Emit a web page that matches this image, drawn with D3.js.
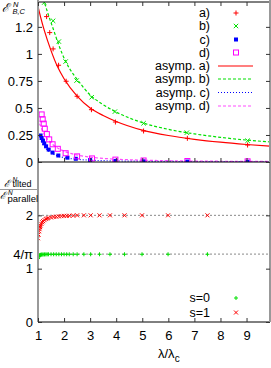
<!DOCTYPE html>
<html><head><meta charset="utf-8">
<script src="https://cdn.jsdelivr.net/npm/d3@7"></script>
<style>body{margin:0;background:#fff}svg{display:block}text{font-family:"Liberation Sans",Arial,sans-serif}</style>
</head><body>
<svg id="c" width="271" height="368"></svg>
<script>
// ---- data ----
const xTicks = [1,2,3,4,5,6,7,8,9];
const topYTicks = [0,0.25,0.5,0.75,1,1.25];
const topYTickLabels = ["0","0.25","0.5","0.75","1","1.2"];
const botYTicks = [0,1,2];
const botRefLines = [2, 4/Math.PI];
const botRefLabel = "4/π";
const legendTop = ["a)","b)","c)","d)","asymp. a)","asymp. b)","asymp. c)","asymp. d)"];
const legendBot = ["s=0","s=1"];

const pointsA = [[1.33,1.345],[1.45,1.197],[1.58,1.046],[1.79,0.895],[2.08,0.747],[2.50,0.608],[3.05,0.484],[3.97,0.370],[5.05,0.287],[6.73,0.219],[9.04,0.157]];
const pointsB = [[1.24,1.475],[1.58,1.306],[1.80,1.114],[2.06,0.929],[2.48,0.753],[3.06,0.599],[3.95,0.466],[5.05,0.358],[6.71,0.271],[9.04,0.197]];
const pointsC = [[1.10,0.245],[1.14,0.222],[1.19,0.198],[1.24,0.172],[1.31,0.145],[1.41,0.115],[1.56,0.087],[1.78,0.060],[2.13,0.040],[2.45,0.030],[3.0,0.018],[3.97,0.010],[5.05,0.006],[6.73,0.004],[9.04,0.002]];
const pointsD = [[1.14,0.440],[1.18,0.395],[1.22,0.355],[1.26,0.308],[1.34,0.258],[1.43,0.209],[1.56,0.164],[1.76,0.122],[2.06,0.081],[2.50,0.052],[3.07,0.033],[3.97,0.022],[5.05,0.014],[6.73,0.009],[9.04,0.006]];

const asymA = [[1,1.44],[1.1,1.34],[1.25,1.21],[1.5,1.03],[1.75,0.88],[2,0.77],[2.5,0.61],[3,0.50],[3.5,0.43],[4,0.375],[5,0.295],[6,0.245],[7,0.21],[8,0.183],[9,0.162],[9.9,0.146]];
const asymB = [[1.2,1.51],[1.24,1.48],[1.4,1.36],[1.6,1.22],[1.8,1.08],[2.04,0.94],[2.36,0.81],[2.5,0.765],[3,0.62],[3.5,0.53],[4,0.462],[5,0.364],[6,0.302],[7,0.26],[8,0.228],[9,0.203],[9.9,0.186]];
const asymC = [[1,0.27],[1.1,0.205],[1.2,0.16],[1.3,0.127],[1.5,0.085],[1.75,0.057],[2,0.041],[2.5,0.025],[3,0.017],[4,0.01],[5,0.007],[7,0.004],[9.9,0.002]];
const asymD = [[1,0.40],[1.1,0.33],[1.2,0.275],[1.3,0.232],[1.5,0.175],[1.75,0.13],[2,0.1],[2.5,0.065],[3,0.045],[4,0.026],[5,0.017],[6,0.012],[7,0.009],[8,0.007],[9.9,0.005]];

const ratioS0 = [[1.0,1.19],[1.02,1.22],[1.04,1.24],[1.06,1.25],[1.08,1.255],[1.1,1.26],[1.13,1.263],[1.16,1.265],[1.2,1.266],[1.25,1.267],[1.3,1.268],[1.35,1.269],[1.4,1.27],[1.5,1.27],[1.6,1.27],[1.7,1.27],[1.8,1.27],[1.9,1.27],[2.0,1.27],[2.1,1.27],[2.2,1.27],[2.35,1.27],[2.5,1.27],[2.76,1.27],[3.02,1.27],[3.36,1.27],[3.76,1.27],[4.32,1.27],[4.99,1.27],[5.99,1.27],[7.5,1.27]];
const ratioS1 = [[1.0,1.57],[1.02,1.64],[1.04,1.70],[1.06,1.74],[1.08,1.78],[1.1,1.81],[1.13,1.84],[1.16,1.87],[1.2,1.89],[1.25,1.91],[1.3,1.93],[1.35,1.94],[1.4,1.95],[1.5,1.96],[1.6,1.97],[1.7,1.975],[1.8,1.98],[1.9,1.985],[2.0,1.99],[2.1,1.99],[2.2,1.992],[2.35,1.995],[2.5,2.0],[2.76,2.0],[3.02,2.0],[3.36,2.0],[3.76,2.0],[4.32,2.0],[4.99,2.0],[5.99,2.0],[7.5,2.0]];

// ---- colours ----
const RED="#ff0000", GREEN="#00e000", BLUE="#0000ff", MAG="#ff00ff";

const svg = d3.select("#c");
const L=38, R=270, T=2, MID=162, B=322;
const x = d3.scaleLinear().domain([1,9.9]).range([L,R]);
const yT = d3.scaleLinear().domain([0,1.48]).range([MID,T]);
const yB = d3.scaleLinear().domain([0,3]).range([B,MID]);

svg.append("clipPath").attr("id","cpT").append("rect").attr("x",L).attr("y",T).attr("width",R-L).attr("height",MID-T);
svg.append("clipPath").attr("id","cpB").append("rect").attr("x",L).attr("y",MID).attr("width",R-L).attr("height",B-MID);

function plus(g,px,py,c,s=2.5){g.append("path").attr("d",`M${px-s},${py}H${px+s}M${px},${py-s}V${py+s}`).attr("stroke",c).attr("stroke-width",1).attr("fill","none");}
function cross(g,px,py,c,s=2.2){g.append("path").attr("d",`M${px-s},${py-s}L${px+s},${py+s}M${px-s},${py+s}L${px+s},${py-s}`).attr("stroke",c).attr("stroke-width",1).attr("fill","none");}
function fsq(g,px,py,c,s=2){g.append("rect").attr("x",px-s).attr("y",py-s).attr("width",2*s).attr("height",2*s).attr("fill",c);}
function osq(g,px,py,c,s=2.5){g.append("rect").attr("x",px-s).attr("y",py-s).attr("width",2*s).attr("height",2*s).attr("fill","none").attr("stroke",c).attr("stroke-width",1);}

const gB = svg.append("g").attr("clip-path","url(#cpB)");
botRefLines.forEach(v=>{
  gB.append("line").attr("x1",L).attr("x2",R).attr("y1",yB(v)).attr("y2",yB(v)).attr("stroke","#888").attr("stroke-width",1).attr("stroke-dasharray","2,2");
});

const gT = svg.append("g").attr("clip-path","url(#cpT)");
const lineT = d3.line().x(d=>x(d[0])).y(d=>yT(d[1])).curve(d3.curveMonotoneX);
gT.append("path").datum(asymA).attr("d",lineT).attr("fill","none").attr("stroke",RED).attr("stroke-width",1.2);
gT.append("path").datum(asymB).attr("d",lineT).attr("fill","none").attr("stroke",GREEN).attr("stroke-width",1.2).attr("stroke-dasharray","3,2");
gT.append("path").datum(asymC).attr("d",lineT).attr("fill","none").attr("stroke",BLUE).attr("stroke-width",1.2).attr("stroke-dasharray","1,2");
gT.append("path").datum(asymD).attr("d",lineT).attr("fill","none").attr("stroke",MAG).attr("stroke-opacity",0.7).attr("stroke-width",1.2).attr("stroke-dasharray","3,2");

pointsA.forEach(d=>plus(gT,x(d[0]),yT(d[1]),RED));
pointsB.forEach(d=>cross(gT,x(d[0]),yT(d[1]),GREEN));
pointsC.forEach(d=>fsq(gT,x(d[0]),yT(d[1]),BLUE));
pointsD.forEach(d=>osq(gT,x(d[0]),yT(d[1]),MAG));

ratioS0.forEach(d=>plus(gB,x(d[0]),yB(d[1]),GREEN,2));
ratioS1.forEach(d=>cross(gB,x(d[0]),yB(d[1]),RED,2));

const frame = svg.append("g");
[T,MID,B].forEach(yy=>frame.append("line").attr("x1",L).attr("x2",R).attr("y1",yy).attr("y2",yy).attr("stroke","#000").attr("stroke-width",1));
frame.append("line").attr("x1",L).attr("x2",L).attr("y1",0).attr("y2",B).attr("stroke","#999").attr("stroke-width",2);
frame.append("line").attr("x1",R).attr("x2",R).attr("y1",0).attr("y2",B).attr("stroke","#999").attr("stroke-width",2);

function styleAxis(g){g.select(".domain").remove();g.selectAll(".tick line").attr("stroke","#333");g.selectAll(".tick text").attr("font-size",13).attr("fill","#000").attr("font-family","Liberation Sans, Arial, sans-serif");}
svg.append("g").attr("transform",`translate(${L},0)`)
  .call(d3.axisLeft(yT).tickValues(topYTicks).tickFormat((d,i)=>topYTickLabels[i]).tickSizeInner(-4).tickSizeOuter(0).tickPadding(5))
  .call(styleAxis);
svg.append("g").attr("transform",`translate(${R},0)`)
  .call(d3.axisRight(yT).tickValues(topYTicks).tickFormat("").tickSizeInner(-4).tickSizeOuter(0)).call(styleAxis);
svg.append("g").attr("transform",`translate(0,${MID})`)
  .call(d3.axisBottom(x).tickValues(xTicks).tickFormat("").tickSizeInner(-4).tickSizeOuter(0)).call(styleAxis);
svg.append("g").attr("transform",`translate(0,${T})`)
  .call(d3.axisTop(x).tickValues(xTicks).tickFormat("").tickSizeInner(-4).tickSizeOuter(0)).call(styleAxis);
svg.append("g").attr("transform",`translate(${L},0)`)
  .call(d3.axisLeft(yB).tickValues(botYTicks).tickFormat(d3.format("d")).tickSizeInner(-4).tickSizeOuter(0).tickPadding(5))
  .call(styleAxis);
svg.append("g").attr("transform",`translate(${L},0)`)
  .call(d3.axisLeft(yB).tickValues([4/Math.PI]).tickFormat(()=>botRefLabel).tickSizeInner(0).tickSizeOuter(0).tickPadding(5))
  .call(styleAxis);
svg.append("g").attr("transform",`translate(${R},0)`)
  .call(d3.axisRight(yB).tickValues(botYTicks).tickFormat("").tickSizeInner(-4).tickSizeOuter(0)).call(styleAxis);
svg.append("g").attr("transform",`translate(0,${B})`)
  .call(d3.axisBottom(x).tickValues(xTicks).tickFormat(d3.format("d")).tickSizeInner(-4).tickSizeOuter(0).tickPadding(9))
  .call(styleAxis);

// ---- legends ----
const legX = 210, sx1 = 218, sx2 = 253, mx = 236;
const legY = [13,26,39.5,52.5,66,79,92.5,106];
legendTop.forEach((t,i)=>{
  svg.append("text").attr("x",legX).attr("y",legY[i]+4.3).attr("text-anchor","end").attr("font-size",12.5).text(t);
});
plus(svg,mx,legY[0],RED); cross(svg,mx,legY[1],GREEN); fsq(svg,mx,legY[2],BLUE); osq(svg,mx,legY[3],MAG);
svg.append("line").attr("x1",sx1).attr("x2",sx2).attr("y1",legY[4]).attr("y2",legY[4]).attr("stroke",RED).attr("stroke-width",1.2);
svg.append("line").attr("x1",sx1).attr("x2",sx2).attr("y1",legY[5]).attr("y2",legY[5]).attr("stroke",GREEN).attr("stroke-width",1.2).attr("stroke-dasharray","3,2");
svg.append("line").attr("x1",sx1).attr("x2",sx2).attr("y1",legY[6]).attr("y2",legY[6]).attr("stroke",BLUE).attr("stroke-width",1.2).attr("stroke-dasharray","1,2");
svg.append("line").attr("x1",sx1).attr("x2",sx2).attr("y1",legY[7]).attr("y2",legY[7]).attr("stroke",MAG).attr("stroke-opacity",0.7).attr("stroke-width",1.2).attr("stroke-dasharray","3,2");

const legBY = [298,312.5];
legendBot.forEach((t,i)=>{
  svg.append("text").attr("x",legX).attr("y",legBY[i]+4.3).attr("text-anchor","end").attr("font-size",12.5).text(t);
});
plus(svg,mx,legBY[0],GREEN,2); cross(svg,mx,legBY[1],RED,2);

// ---- axis titles ----
const ser = "Liberation Serif, Times New Roman, serif";
const t1 = svg.append("text").attr("font-family",ser).attr("font-style","italic");
t1.append("tspan").attr("x",2).attr("y",12).attr("font-size",12).text("ℰ");
t1.append("tspan").attr("x",13).attr("y",6.5).attr("font-size",7.5).text("N");
t1.append("tspan").attr("x",12.5).attr("y",14).attr("font-size",7.5).text("B,C");

const t2 = svg.append("text").attr("font-family",ser);
t2.append("tspan").attr("x",4).attr("y",186.8).attr("font-size",10).attr("font-style","italic").text("ℰ");
t2.append("tspan").attr("x",12.5).attr("y",181.8).attr("font-size",6.5).attr("font-style","italic").text("N");
t2.append("tspan").attr("x",12.5).attr("y",187.3).attr("font-size",9).text("tilted");
svg.append("line").attr("x1",0).attr("x2",37).attr("y1",189.5).attr("y2",189.5).attr("stroke","#999").attr("stroke-width",1);
const t3 = svg.append("text").attr("font-family",ser);
t3.append("tspan").attr("x",0).attr("y",198.5).attr("font-size",10).attr("font-style","italic").text("ℰ");
t3.append("tspan").attr("x",8).attr("y",194.5).attr("font-size",6.5).attr("font-style","italic").text("N");
t3.append("tspan").attr("x",7.5).attr("y",201.5).attr("font-size",9.5).text("parallel");

const xl = svg.append("text").attr("x",158).attr("y",358).attr("font-size",13);
xl.append("tspan").text("λ/λ");
xl.append("tspan").attr("dy",3.5).attr("font-size",10).text("c");
</script>
</body></html>
